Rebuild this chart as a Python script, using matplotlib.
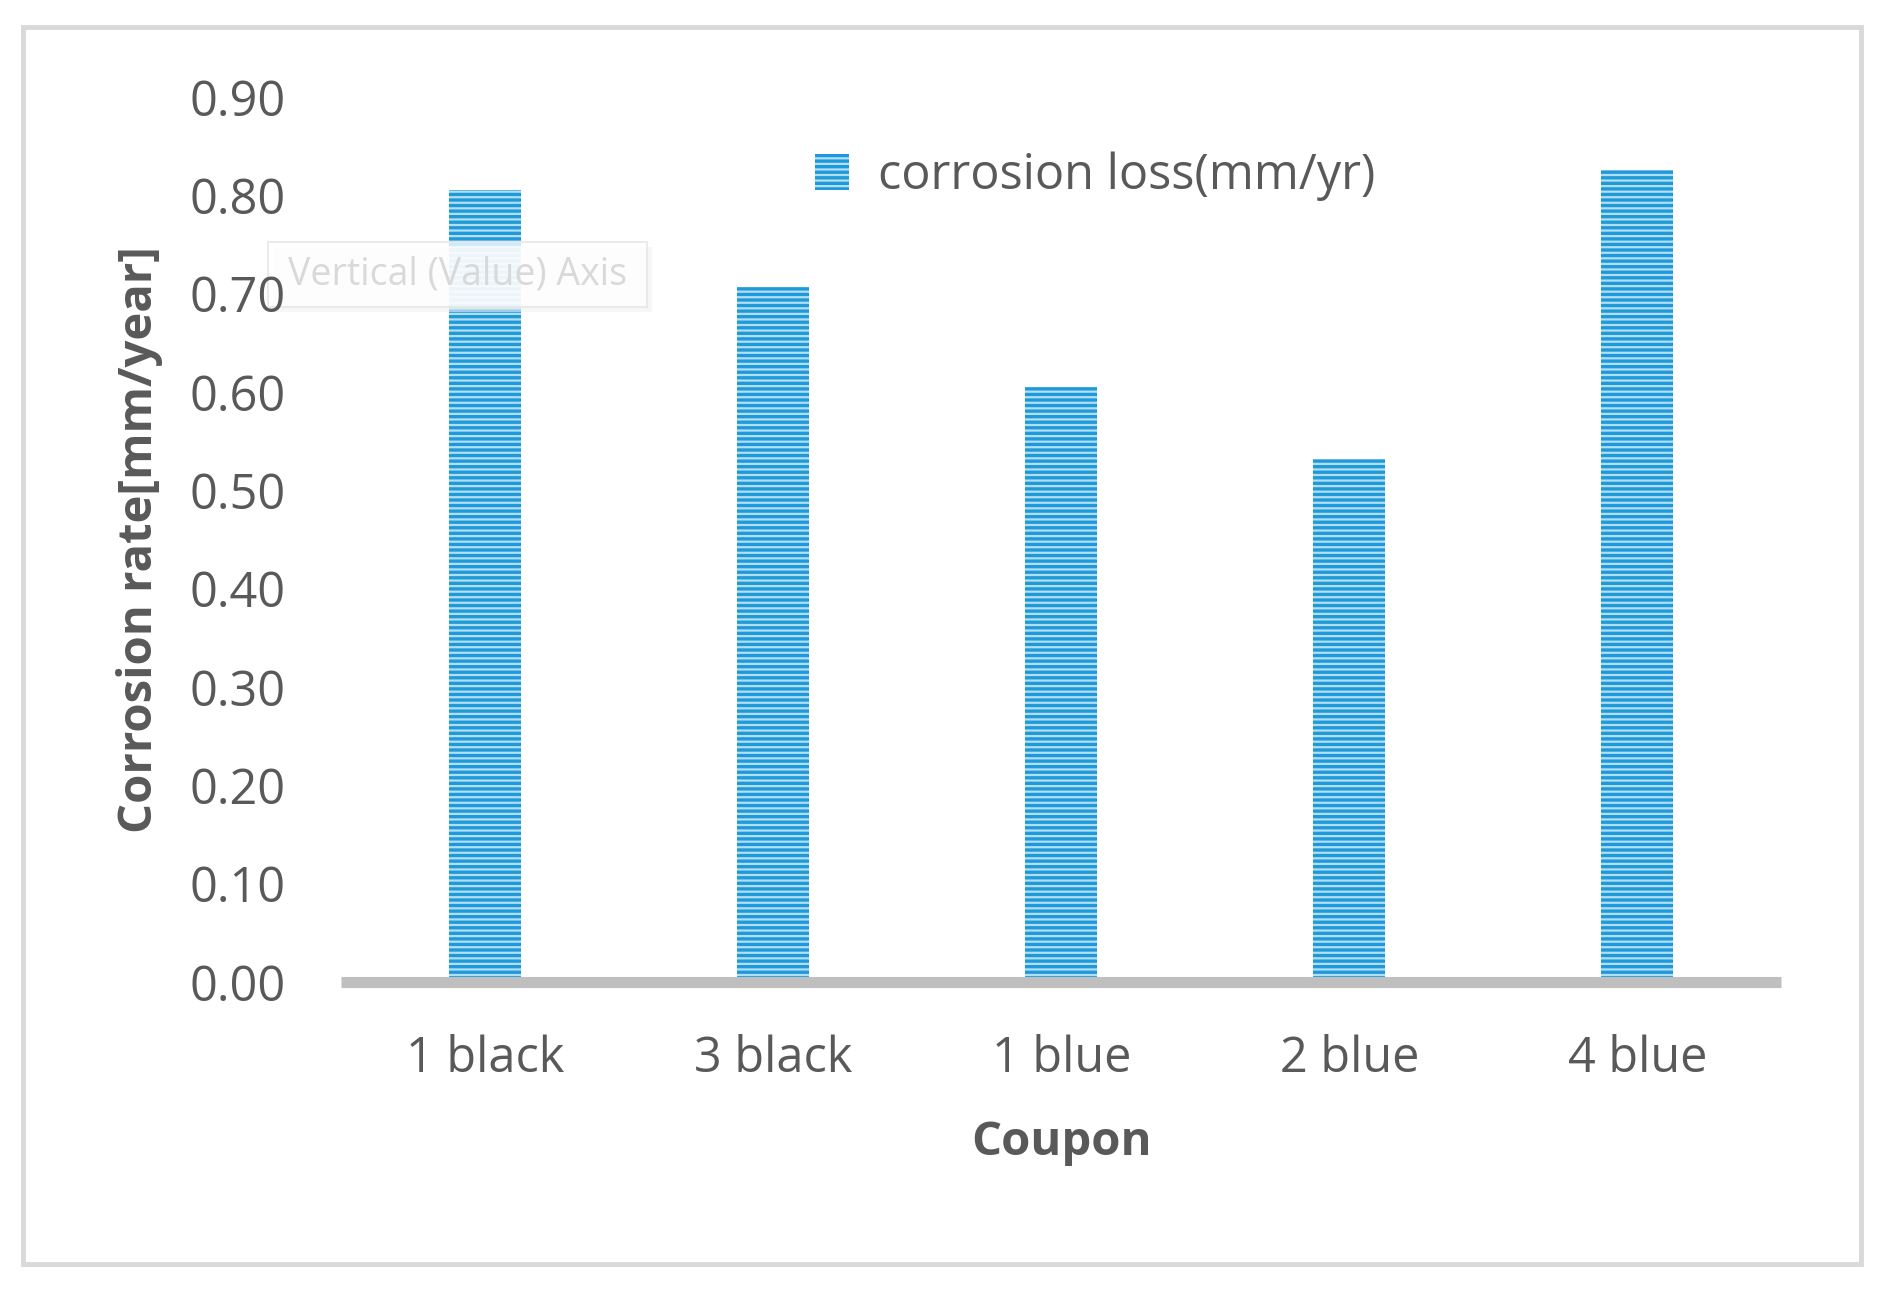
import matplotlib
matplotlib.use("Agg")
import matplotlib.pyplot as plt
from matplotlib.patches import Rectangle

coupons = ["1 black", "3 black", "1 blue", "2 blue", "4 blue"]
corrosion_rate = [0.805, 0.707, 0.605, 0.532, 0.826]
y_ticks = [0.0, 0.1, 0.2, 0.3, 0.4, 0.5, 0.6, 0.7, 0.8, 0.9]

plt.rcParams['font.family'] = ['Open Sans', 'DejaVu Sans']
plt.rcParams['hatch.linewidth'] = 1.6

text_gray = "#595959"
bar_blue = "#1f9ad8"
stripe = "#b3def5"

fig = plt.figure(figsize=(18.95, 13.06), dpi=100)
ax = fig.add_axes([0.180, 0.2481, 0.760, 0.6776])

x = list(range(len(coupons)))
ax.bar(x, corrosion_rate, width=0.25, color=bar_blue, edgecolor=stripe,
       linewidth=0, hatch='---', label="corrosion loss(mm/yr)", zorder=2)

ax.set_xlim(-0.5, len(coupons) - 0.5)
ax.set_ylim(0, 0.9)
ax.set_yticks(y_ticks)
ax.set_yticklabels([f"{v:.2f}" for v in y_ticks])
ax.set_xticks(x)
ax.set_xticklabels(coupons)
ax.tick_params(axis='both', length=0, labelsize=35, labelcolor=text_gray)
ax.tick_params(axis='y', pad=40)
ax.tick_params(axis='x', pad=38)
ax.yaxis.set_zorder(10)

for side in ['top', 'right', 'left']:
    ax.spines[side].set_visible(False)
ax.spines['bottom'].set_color("#bfbfbf")
ax.spines['bottom'].set_linewidth(8)
ax.spines['bottom'].set_capstyle('butt')
ax.spines['bottom'].set_zorder(3)

ax.set_ylabel("Corrosion rate[mm/year]", fontsize=34, fontweight='bold', color=text_gray)
ax.yaxis.label.set_va('center')
ax.yaxis.set_label_coords(-0.140, 0.5)
ax.set_xlabel("Coupon", fontsize=34, fontweight='bold', color=text_gray)
ax.xaxis.label.set_va('center')
ax.xaxis.set_label_coords(0.5, -0.181)

fig.legend(loc='center', bbox_to_anchor=(0.578, 0.865), frameon=False,
           fontsize=35, labelcolor=text_gray, handlelength=0.7,
           handleheight=0.75, handletextpad=0.6)

# faint tooltip left over from the screenshot
ax.add_patch(Rectangle((0.1440, 0.7610), 0.2000, 0.0500, transform=fig.transFigure,
                       facecolor="#f2f2f2", edgecolor="none", alpha=0.6,
                       zorder=4, clip_on=False))
ax.add_patch(Rectangle((0.1414, 0.7648), 0.2000, 0.0497, transform=fig.transFigure,
                       facecolor="white", edgecolor="#e6e6e6", linewidth=1.5,
                       alpha=0.8, zorder=5, clip_on=False))
ax.text(0.2414, 0.7897, "Vertical (Value) Axis", fontsize=27, color="#d9d9d9",
        ha='center', va='center', zorder=6, transform=fig.transFigure)

# outer frame
fig.patches.append(Rectangle((23 / 1895, 1 - 1264 / 1306), (1861 - 23) / 1895,
                             (1264 - 27) / 1306, transform=fig.transFigure,
                             facecolor="none", edgecolor="#d9d9d9", linewidth=3.5, zorder=1))

fig.savefig("out.png", dpi=100)
